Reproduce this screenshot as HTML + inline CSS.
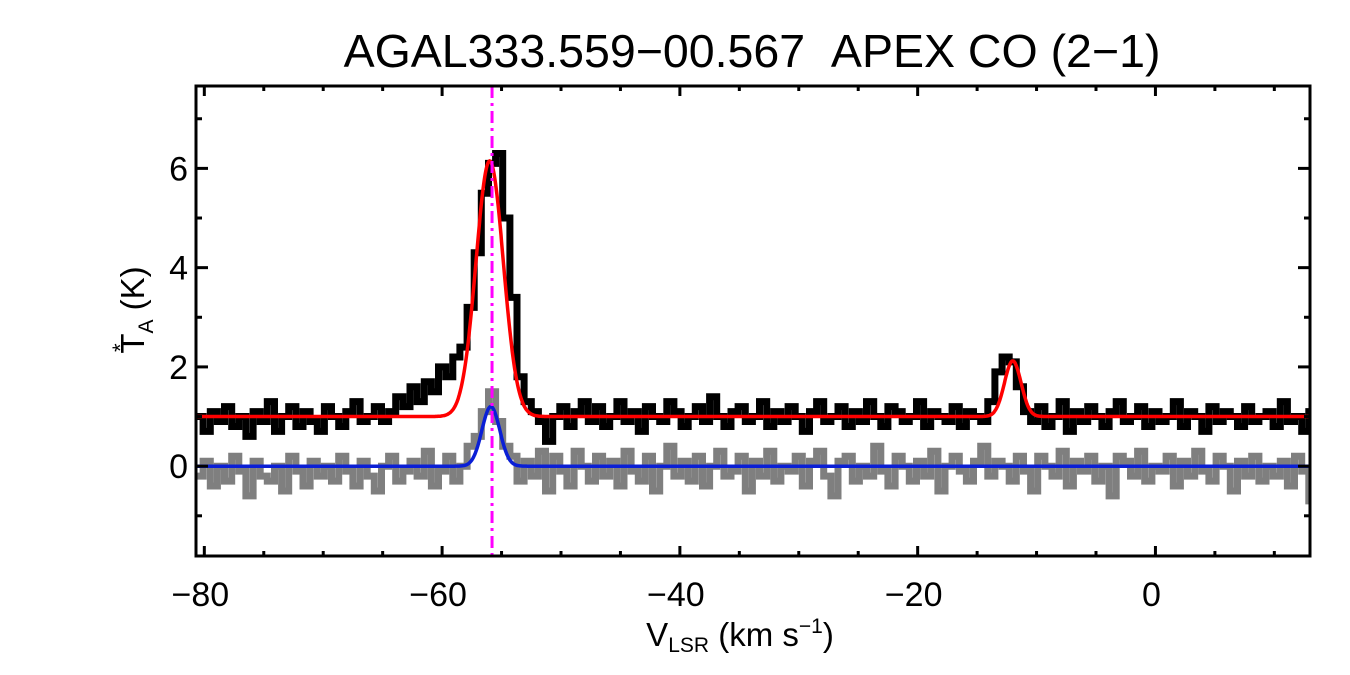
<!DOCTYPE html>
<html><head><meta charset="utf-8"><style>
html,body{margin:0;padding:0;background:#fff;}
svg{display:block;font-family:"Liberation Sans",Arial,sans-serif;}
</style></head><body>
<svg id="chart" width="1350" height="675" viewBox="0 0 1350 675">
<text x="752" y="67" font-size="46.5" text-anchor="middle">AGAL333.559−00.567&#160;&#160;APEX CO (2−1)</text>
<g id="plot"></g>
<text x="740" y="646" font-size="33" text-anchor="middle">V<tspan font-size="21" dy="6">LSR</tspan><tspan dy="-6"> (km s</tspan><tspan font-size="21" dy="-13">−1</tspan><tspan dy="13">)</tspan></text>
<g transform="translate(144,310) rotate(-90)">
<text x="0" y="0" font-size="33" text-anchor="middle">T<tspan font-size="21" dy="9">A</tspan><tspan dy="-9"> (K)</tspan></text>
<text x="-42" y="-16" font-size="22">*</text>
</g>
</svg>
<script>
const channelStart = -80.4;
const channelWidth = 0.6;
const spectrumBlack = [1.0,0.7,1.1,0.9,1.2,0.8,1.0,0.6,1.1,0.9,1.3,0.7,1.0,1.2,0.8,1.1,0.9,0.7,1.2,1.0,0.8,1.1,1.3,0.9,1.0,1.2,0.9,
1.1,1.4,1.2,1.6,1.3,1.7,1.5,2.0,1.8,2.2,2.4,
3.2,4.3,5.5,6.1,6.3,5.0,3.4,1.8,1.3,1.1,
0.9,0.5,1.0,1.2,0.8,1.1,1.3,0.9,1.2,0.8,1.0,1.3,0.9,1.1,0.7,1.2,1.0,0.9,1.3,1.1,0.8,1.0,1.2,0.9,1.4,1.0,0.8,1.1,1.2,0.9,1.0,1.3,0.8,1.1,0.9,1.2,1.0,0.7,1.1,1.3,0.9,1.0,1.2,0.8,1.1,0.9,1.3,1.0,0.8,1.2,1.1,0.9,1.0,1.3,0.8,1.1,1.0,0.9,1.2,0.8,1.1,1.0,0.9,
1.3,1.9,2.2,2.1,1.6,1.1,
0.9,1.2,0.8,1.0,1.3,0.7,1.1,0.9,1.2,1.0,0.8,1.1,1.3,0.9,1.0,1.2,0.8,1.1,0.9,1.0,1.3,0.8,1.1,1.0,0.7,1.2,0.9,1.1,1.0,0.8,1.2,0.9,1.0,1.1,0.8,1.3,0.9,1.0,0.7,1.1];
const spectrumGrey = [-0.2,0.1,-0.4,0.0,-0.3,0.2,-0.1,-0.6,0.1,-0.2,
-0.3,0.0,-0.5,0.2,-0.1,-0.4,0.1,-0.2,0.0,-0.3,
0.2,-0.1,-0.4,0.1,-0.2,-0.5,0.0,0.2,-0.3,-0.1,
0.1,-0.2,0.3,-0.4,-0.1,0.2,-0.3,0.0,0.4,0.6,
1.1,1.5,0.9,0.4,0.2,-0.3,0.1,-0.2,0.3,-0.5,
0.2,-0.1,-0.4,0.3,0.0,-0.3,0.2,-0.2,0.1,-0.4,
0.3,-0.1,-0.3,0.2,-0.5,0.0,0.4,-0.2,0.1,-0.3,
0.2,-0.4,0.0,0.3,-0.2,-0.1,0.2,-0.5,0.1,-0.2,
0.3,-0.3,0.0,-0.1,0.2,-0.4,0.1,0.3,-0.2,-0.6,
0.1,0.2,-0.3,0.0,-0.2,0.4,-0.1,-0.4,0.2,0.0,
-0.3,0.1,-0.2,0.3,-0.5,0.0,0.2,-0.1,-0.3,0.1,
0.4,-0.2,0.1,0.0,-0.3,0.2,-0.1,-0.5,0.2,0.0,
-0.2,0.3,-0.4,0.1,-0.1,0.2,-0.3,0.0,-0.6,0.2,
0.1,-0.2,0.3,-0.3,0.0,-0.1,0.2,-0.4,0.1,-0.2,
0.3,-0.1,-0.3,0.2,0.0,-0.5,0.1,-0.2,0.2,-0.3,
0.0,-0.2,0.1,-0.4,0.2,-0.1,-0.7];
const redBaseline = 1.0;
const redAmps = [5.15, 1.12];
const redCenters = [-56.0, -12.0];
const redSigmas = [1.15, 0.7];
const blueBaseline = 0.0;
const blueAmps = [1.2];
const blueCenters = [-55.9];
const blueSigmas = [0.75];
const markerVelocity = -55.8;
const xTicks = [-80,-60,-40,-20,0];
const xTickLabels = ["−80","−60","−40","−20","0"];
const yTicks = [0,2,4,6];
const yTickLabels = ["0","2","4","6"];

const X0=196,X1=1310,Y0=86,Y1=556;
const xMin=-80.7,xMax=13.0,yMin=-1.81,yMax=7.66;
const sx=v=>X0+(v-xMin)/(xMax-xMin)*(X1-X0);
const sy=t=>Y1-(t-yMin)/(yMax-yMin)*(Y1-Y0);
const NS="http://www.w3.org/2000/svg";
const plot=document.getElementById('plot');
function mk(tag,attrs,parent){const e=document.createElementNS(NS,tag);for(const k in attrs)e.setAttribute(k,attrs[k]);(parent||plot).appendChild(e);return e;}
const defs=mk('defs',{});
const cp=mk('clipPath',{id:'clip'},defs);mk('rect',{x:X0,y:Y0,width:X1-X0,height:Y1-Y0},cp);
const g=mk('g',{'clip-path':'url(#clip)'});
function stepPath(arr){let d='';arr.forEach((t,i)=>{const a=sx(channelStart+(i-0.5)*channelWidth),b=sx(channelStart+(i+0.5)*channelWidth),y=sy(t);d+=(i?'L':'M')+a.toFixed(1)+' '+y.toFixed(1)+'L'+b.toFixed(1)+' '+y.toFixed(1);});return d;}
function gaussPath(base,A,C,S){let d='';for(let v=xMin;v<=xMax;v+=0.05){let t=base;for(let k=0;k<A.length;k++)t+=A[k]*Math.exp(-0.5*Math.pow((v-C[k])/S[k],2));d+=(d?'L':'M')+sx(v).toFixed(1)+' '+sy(t).toFixed(1);}return d;}
const grey=mk('path',{d:stepPath(spectrumGrey),fill:'none',stroke:'#7f7f7f','stroke-width':7,'stroke-linejoin':'miter'},g);


const black=mk('path',{d:stepPath(spectrumBlack),fill:'none',stroke:'#000','stroke-width':7,'stroke-linejoin':'miter'},g);


const blue=mk('path',{d:gaussPath(blueBaseline,blueAmps,blueCenters,blueSigmas),fill:'none',stroke:'#0a1fd6','stroke-width':3.5},g);


const red=mk('path',{d:gaussPath(redBaseline,redAmps,redCenters,redSigmas),fill:'none',stroke:'#f00','stroke-width':3.5},g);


const mline=mk('line',{x1:sx(markerVelocity),x2:sx(markerVelocity),y1:Y0,y2:Y1,stroke:'#f0f','stroke-width':3,'stroke-dasharray':'12 5 3 5'},g);


const frame=mk('rect',{x:X0,y:Y0,width:X1-X0,height:Y1-Y0,fill:'none',stroke:'#000','stroke-width':3});


xTicks.forEach((v,i)=>{const x=sx(v);
mk('line',{x1:x,x2:x,y1:Y1,y2:Y1-10,stroke:'#000','stroke-width':3});
mk('line',{x1:x,x2:x,y1:Y0,y2:Y0+10,stroke:'#000','stroke-width':3});
const t=mk('text',{x:x-4,y:606,'font-size':34,'text-anchor':'middle'});t.textContent=xTickLabels[i];

});
for(let v=-80;v<=13;v+=5){if(v%20===0)continue;const x=sx(v);
mk('line',{x1:x,x2:x,y1:Y1,y2:Y1-5,stroke:'#000','stroke-width':3});
mk('line',{x1:x,x2:x,y1:Y0,y2:Y0+5,stroke:'#000','stroke-width':3});}
yTicks.forEach((v,i)=>{const y=sy(v);
mk('line',{x1:X0,x2:X0+12,y1:y,y2:y,stroke:'#000','stroke-width':3});
mk('line',{x1:X1,x2:X1-12,y1:y,y2:y,stroke:'#000','stroke-width':3});
const t=mk('text',{x:188,y:y+12,'font-size':34,'text-anchor':'end'});t.textContent=yTickLabels[i];

});
for(let v=-1;v<=7;v+=2){const y=sy(v);
mk('line',{x1:X0,x2:X0+6,y1:y,y2:y,stroke:'#000','stroke-width':3});
mk('line',{x1:X1,x2:X1-6,y1:y,y2:y,stroke:'#000','stroke-width':3});}
</script>
</body></html>
